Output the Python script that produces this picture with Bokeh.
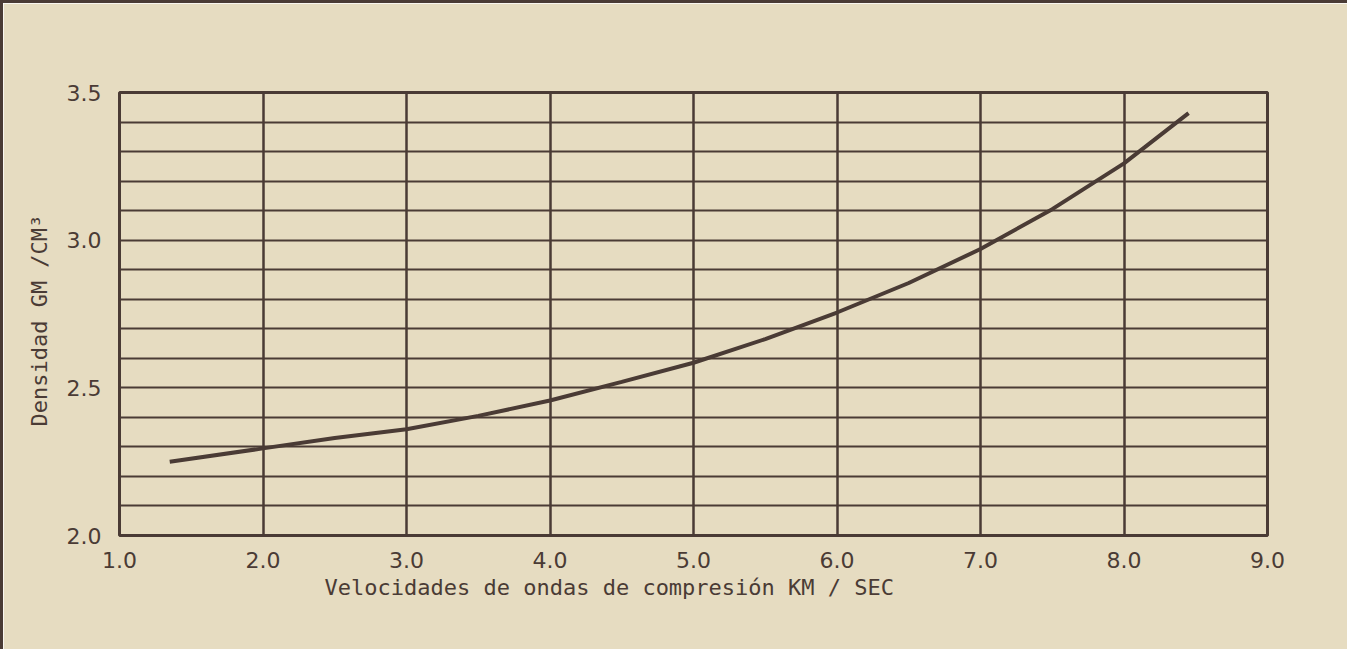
from bokeh.plotting import figure
from bokeh.models import Range1d, FixedTicker, Title
from bokeh.embed import file_html
from bokeh.resources import INLINE

# --- data ---
velocidad = [1.35, 2.0, 2.5, 3.0, 3.5, 4.0, 4.5, 5.0, 5.5, 6.0, 6.5, 7.0, 7.5, 8.0, 8.45]
densidad = [2.25, 2.295, 2.33, 2.36, 2.405, 2.457, 2.52, 2.585, 2.665, 2.755, 2.855, 2.97, 3.105, 3.26, 3.43]

x_ticks = [1.0, 2.0, 3.0, 4.0, 5.0, 6.0, 7.0, 8.0, 9.0]
y_ticks = [2.0, 2.5, 3.0, 3.5]
y_grid = [2.0, 2.1, 2.2, 2.3, 2.4, 2.5, 2.6, 2.7, 2.8, 2.9, 3.0, 3.1, 3.2, 3.3, 3.4, 3.5]

x_title = "Velocidades de ondas de compresión  KM / SEC"
y_title = "Densidad  GM /CM³"

INK = "#4a3b35"
PAPER = "#e6dcc1"
FONT = "DejaVu Sans"
TITLE_FONT = "DejaVu Sans Mono"

p = figure(width=1347, height=649, output_backend="svg", toolbar_location=None,
           x_range=Range1d(1.0, 9.0), y_range=Range1d(2.0, 3.5),
           min_border_left=116, min_border_right=83, min_border_top=89, min_border_bottom=117)

p.background_fill_color = PAPER
p.border_fill_color = PAPER
p.outline_line_color = INK
p.outline_line_width = 3

p.styles = {"border-left": f"3px solid {INK}", "border-top": f"3px solid {INK}"}

# axes
p.xaxis.ticker = FixedTicker(ticks=x_ticks)
p.yaxis.ticker = FixedTicker(ticks=y_ticks)
p.xaxis.major_label_overrides = {t: f"{t:.1f}" for t in x_ticks}
p.yaxis.major_label_overrides = {t: f"{t:.1f}" for t in y_ticks}
for ax in (p.xaxis, p.yaxis):
    ax.axis_line_color = None
    ax.major_tick_line_color = None
    ax.minor_tick_line_color = None
    ax.major_label_text_font = FONT
    ax.major_label_text_font_size = "22px"
    ax.major_label_text_color = INK
    ax.axis_label_text_font = TITLE_FONT
    ax.axis_label_text_font_size = "22px"
    ax.axis_label_text_font_style = "normal"
    ax.axis_label_text_color = INK
p.xaxis.major_label_standoff = 10
p.yaxis.major_label_standoff = 12
p.yaxis.axis_label = y_title
p.yaxis.axis_label_standoff = 12

# grid
p.xgrid.ticker = FixedTicker(ticks=x_ticks)
p.ygrid.ticker = FixedTicker(ticks=y_grid)
p.xgrid.grid_line_color = INK
p.ygrid.grid_line_color = INK
p.xgrid.grid_line_width = 2.5
p.ygrid.grid_line_width = 2

# curve
p.line(velocidad, densidad, line_color=INK, line_width=4)

# x title, set left of centre as in the reference
p.add_layout(Title(text=x_title, align="left", offset=205, standoff=4,
                   text_font=TITLE_FONT, text_font_size="22px", text_font_style="normal",
                   text_color=INK), "below")

open("out.html", "w").write(file_html(p, INLINE))
